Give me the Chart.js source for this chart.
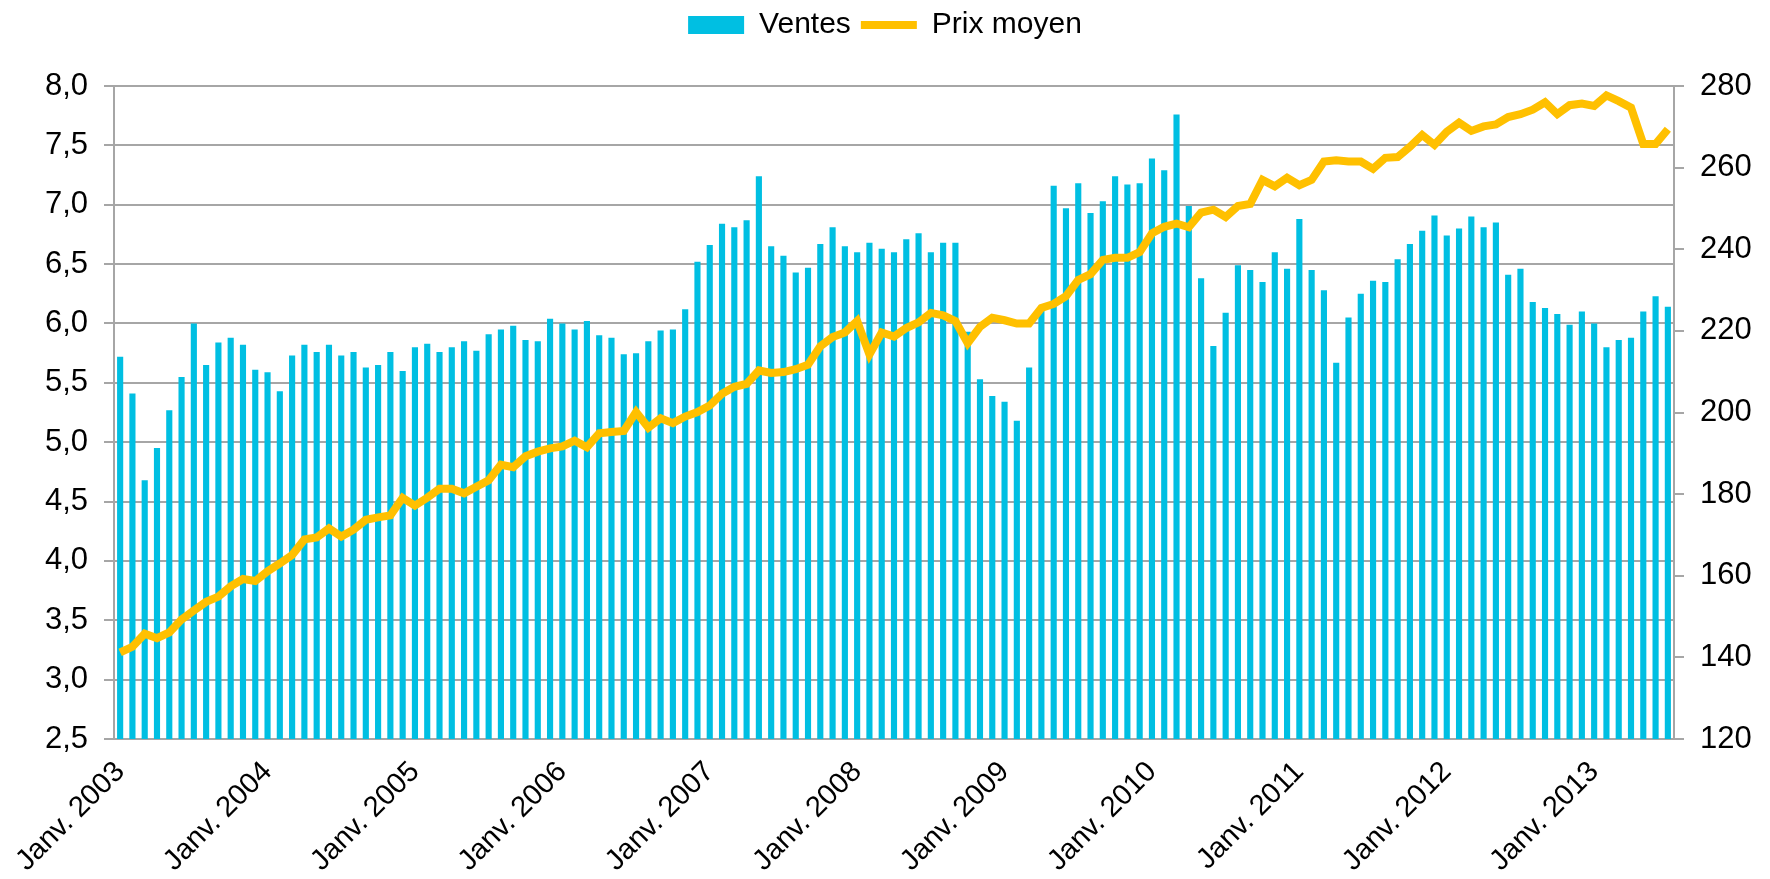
<!DOCTYPE html>
<html lang="fr">
<head>
<meta charset="utf-8">
<title>Ventes et prix moyen</title>
<script src="https://cdn.jsdelivr.net/npm/chart.js@4.4.0/dist/chart.umd.min.js"></script>
<style>
  html, body { margin: 0; padding: 0; background: #fff; }
  #wrap { width: 1770px; height: 879px; position: relative; }
</style>
</head>
<body>
<div id="wrap"><canvas id="graphique"></canvas></div>
<script>
// Libellés des mois (axe X), de janv. 2003 à juil. 2013
const mois = ['Janv.', 'Févr.', 'Mars', 'Avr.', 'Mai', 'Juin', 'Juil.', 'Août', 'Sept.', 'Oct.', 'Nov.', 'Déc.'];
const annees = [2003, 2004, 2005, 2006, 2007, 2008, 2009, 2010, 2011, 2012, 2013];

// Ventes (axe de gauche)
const ventes = [
  5.72, 5.41, 4.68, 4.95, 5.27, 5.55, 6.00, 5.65, 5.84, 5.88, 5.82, 5.61,
  5.59, 5.43, 5.73, 5.82, 5.76, 5.82, 5.73, 5.76, 5.63, 5.65, 5.76, 5.60,
  5.80, 5.83, 5.76, 5.80, 5.85, 5.77, 5.91, 5.95, 5.98, 5.86, 5.85, 6.04,
  6.00, 5.95, 6.02, 5.90, 5.88, 5.74, 5.75, 5.85, 5.94, 5.95, 6.12, 6.52,
  6.66, 6.84, 6.81, 6.87, 7.24, 6.65, 6.57, 6.43, 6.47, 6.67, 6.81, 6.65,
  6.60, 6.68, 6.63, 6.60, 6.71, 6.76, 6.60, 6.68, 6.68, 5.93, 5.53, 5.39,
  5.34, 5.18, 5.63, 6.15, 7.16, 6.97, 7.18, 6.93, 7.03, 7.24, 7.17, 7.18,
  7.39, 7.29, 7.76, 6.99, 6.38, 5.81, 6.09, 6.49, 6.45, 6.35, 6.60, 6.46,
  6.88, 6.45, 6.28, 5.67, 6.05, 6.25, 6.36, 6.35, 6.54, 6.67, 6.78, 6.91,
  6.74, 6.80, 6.90, 6.81, 6.85, 6.41, 6.46, 6.18, 6.13, 6.08, 5.99, 6.10,
  6.00, 5.80, 5.86, 5.88, 6.10, 6.23, 6.14
];

// Prix moyen (axe de droite)
const prixMoyen = [
  141.2, 142.6, 145.8, 144.7, 146.1, 149.3, 151.5, 153.6, 154.9, 157.4, 159.2, 158.7,
  161.1, 163.0, 165.1, 168.9, 169.4, 171.6, 169.6, 171.3, 173.7, 174.3, 174.8, 179.1,
  177.2, 179.1, 181.3, 181.3, 180.2, 181.8, 183.4, 187.2, 186.6, 189.3, 190.4, 191.2,
  191.7, 193.1, 191.5, 194.9, 195.2, 195.5, 200.1, 196.3, 198.6, 197.4, 199.0, 200.1,
  201.7, 204.6, 206.3, 207.0, 210.3, 209.7, 209.9, 210.6, 211.7, 216.2, 218.5, 219.6,
  222.4, 214.2, 219.6, 218.6, 220.7, 222.1, 224.4, 223.8, 222.4, 217.0, 221.0, 223.2,
  222.6, 221.8, 221.8, 225.6, 226.6, 228.5, 232.5, 233.9, 237.4, 237.9, 237.9, 239.3,
  243.9, 245.5, 246.3, 245.4, 249.0, 249.7, 247.9, 250.6, 251.1, 257.0, 255.4, 257.5,
  255.7, 257.0, 261.5, 261.8, 261.5, 261.5, 259.7, 262.4, 262.6, 265.1, 268.0, 265.6,
  268.8, 271.0, 269.0, 270.1, 270.6, 272.4, 273.1, 274.2, 276.0, 273.1, 275.3, 275.7,
  275.1, 277.7, 276.3, 274.7, 265.8, 265.8, 269.4
];

// Construire les catégories "Mois année"
const categories = [];
annees.forEach(an => {
  mois.forEach(m => categories.push(m + ' ' + an));
});
categories.length = ventes.length;

const gris = '#a6a6a6';

// Agrandir la zone de la légende pour descendre le graphique
const margeLegende = {
  id: 'margeLegende',
  beforeInit(chart) {
    const fitOrig = chart.legend.fit;
    chart.legend.fit = function fit() {
      fitOrig.bind(chart.legend)();
      this.height += 36;
    };
  }
};

Chart.defaults.font.family = "'Liberation Sans', Arial, sans-serif";
Chart.defaults.font.size = 31;
Chart.defaults.color = '#000';

const ctx = document.getElementById('graphique').getContext('2d');
new Chart(ctx, {
  type: 'bar',
  data: {
    labels: categories,
    datasets: [
      {
        type: 'bar',
        label: 'Ventes',
        data: ventes,
        backgroundColor: '#00bfe2',
        borderWidth: 0,
        barPercentage: 0.5,
        categoryPercentage: 1.0,
        pointStyle: 'rect',
        yAxisID: 'y',
        order: 1
      },
      {
        type: 'line',
        label: 'Prix moyen',
        data: prixMoyen,
        borderColor: '#ffc000',
        backgroundColor: '#ffc000',
        borderWidth: 8,
        pointRadius: 0,
        pointStyle: 'line',
        tension: 0,
        yAxisID: 'y1',
        order: 0
      }
    ]
  },
  options: {
    responsive: true,
    maintainAspectRatio: false,
    animation: false,
    devicePixelRatio: 1,
    layout: { padding: 0 },
    plugins: {
      tooltip: { enabled: false },
      legend: {
        position: 'top',
        labels: {
          usePointStyle: true,
          pointStyleWidth: 56,
          boxHeight: 18,
          padding: 10,
          font: { size: 30 },
          sort: (a, b) => a.datasetIndex - b.datasetIndex
        }
      }
    },
    scales: {
      x: {
        grid: { display: false },
        border: { display: true, color: gris, width: 2 },
        ticks: {
          autoSkip: false,
          minRotation: 45,
          maxRotation: 45,
          padding: 8,
          font: { size: 29 },
          callback: function (value) {
            const lbl = this.getLabelForValue(value);
            return lbl.startsWith('Janv.') ? lbl : '';
          }
        },
        afterFit: (scale) => { scale.height = 140; }
      },
      y: {
        position: 'left',
        min: 2.5,
        max: 8,
        grid: { color: gris, lineWidth: 2, tickLength: 10 },
        border: { color: gris, width: 2 },
        ticks: {
          stepSize: 0.5,
          padding: 16,
          callback: v => v.toFixed(1).replace('.', ',')
        },
        afterFit: (scale) => { scale.width = 114; }
      },
      y1: {
        position: 'right',
        min: 120,
        max: 280,
        grid: { drawOnChartArea: false, color: gris, lineWidth: 2, tickLength: 10 },
        border: { color: gris, width: 2 },
        ticks: { stepSize: 20, padding: 16 },
        afterFit: (scale) => { scale.width = 96; }
      }
    }
  },
  plugins: [margeLegende]
});
</script>
</body>
</html>
